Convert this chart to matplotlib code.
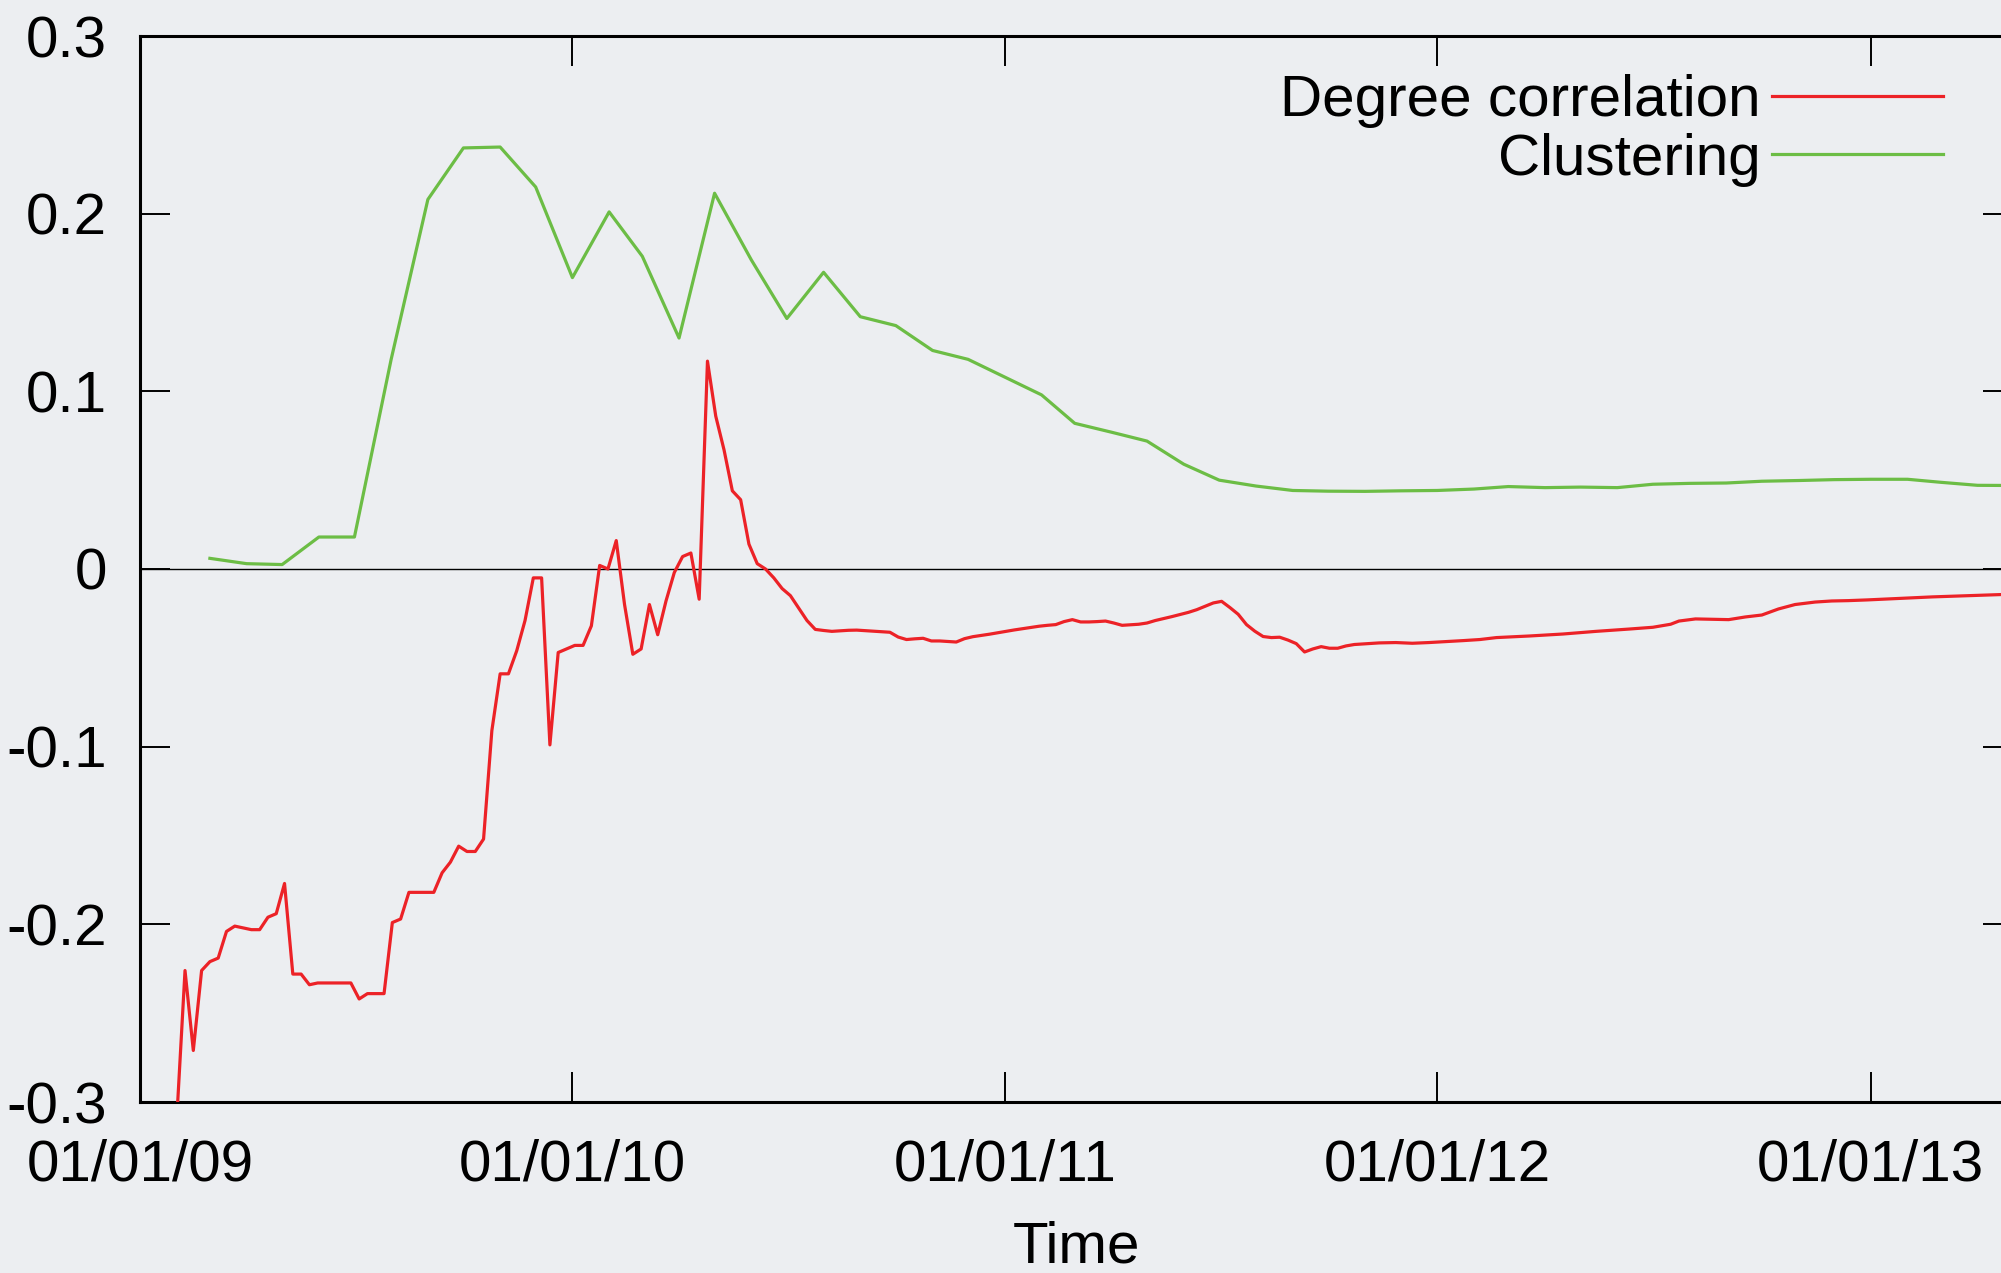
import pandas as pd
import matplotlib
matplotlib.use("Agg")
import matplotlib.pyplot as plt
import matplotlib.dates as mdates
from matplotlib.ticker import FixedLocator, FixedFormatter

# degree correlation, one value per week starting 01/02/2009
red_start = "2009-02-01"
red_weekly = [
    -0.310, -0.226, -0.271, -0.226, -0.221, -0.219, -0.204, -0.201, -0.202, -0.203,
    -0.203, -0.196, -0.194, -0.177, -0.228, -0.228, -0.234, -0.233, -0.233, -0.233,
    -0.233, -0.233, -0.242, -0.239, -0.239, -0.239, -0.199, -0.197, -0.182, -0.182,
    -0.182, -0.182, -0.171, -0.165, -0.156, -0.159, -0.159, -0.152, -0.091, -0.059,
    -0.059, -0.046, -0.029, -0.005, -0.005, -0.099, -0.047, -0.045, -0.043, -0.043,
    -0.032, 0.002, 0.000, 0.016, -0.020, -0.048, -0.045, -0.020, -0.037, -0.018,
    -0.002, 0.007, 0.009, -0.017, 0.117, 0.086, 0.067, 0.044, 0.039, 0.014,
    0.003, -0.000, -0.005, -0.011, -0.015, -0.022, -0.029, -0.034, -0.0346, -0.0351,
    -0.0348, -0.0345, -0.0344, -0.0347, -0.0350, -0.0353, -0.0356, -0.0383, -0.0397, -0.0393,
    -0.0390, -0.0405, -0.0405, -0.0408, -0.0411, -0.0392, -0.0381, -0.0374, -0.0367, -0.0359,
    -0.0351, -0.0343, -0.0336, -0.0329, -0.0322, -0.0317, -0.0313, -0.0296, -0.0285, -0.0298,
    -0.0298, -0.0296, -0.0293, -0.0304, -0.0317, -0.0314, -0.0311, -0.0304, -0.0290, -0.0279,
    -0.0268, -0.0256, -0.0244, -0.0229, -0.0210, -0.0191, -0.0182, -0.0217, -0.0255, -0.0313,
    -0.0350, -0.0380, -0.0386, -0.0384, -0.0400, -0.0420, -0.0467, -0.0450, -0.0437, -0.0446,
    -0.0446, -0.0433, -0.0425, -0.0422, -0.0419, -0.0416, -0.0415, -0.0414, -0.0416, -0.0418,
    -0.0416, -0.0414,
]

# from 2012 on the curve is smooth, keep only some dates
red_tail_dates = [
    "2012-01-23", "2012-02-06", "2012-02-20", "2012-03-19", "2012-04-16", "2012-05-14",
    "2012-06-11", "2012-07-01", "2012-07-16", "2012-07-23", "2012-08-06", "2012-08-20",
    "2012-09-03", "2012-09-17", "2012-10-01", "2012-10-15", "2012-10-29", "2012-11-15",
    "2012-11-29", "2012-12-13", "2012-12-29", "2013-02-22", "2013-04-20", "2013-05-01",
]
red_tail_values = [
    -0.0403, -0.0397, -0.0386, -0.0377, -0.0366, -0.0351,
    -0.0338, -0.0328, -0.0311, -0.0293, -0.0281, -0.0283,
    -0.0285, -0.0270, -0.0259, -0.0225, -0.0200, -0.0186,
    -0.0180, -0.0178, -0.0174, -0.0157, -0.0144, -0.0142,
]

# clustering, one value per month starting 01/03/2009
green_start = "2009-03-01"
green_monthly = [
    0.006, 0.003, 0.0025, 0.018, 0.018, 0.118, 0.208, 0.237, 0.2375, 0.215,
    0.164, 0.201, 0.176, 0.130, 0.2115, 0.174, 0.141, 0.167, 0.142, 0.137,
    0.123, 0.118, 0.108, 0.098, 0.082, 0.077, 0.072, 0.059, 0.050, 0.0467,
    0.0442, 0.0438, 0.0437, 0.0440, 0.0442, 0.0450, 0.0464, 0.0458, 0.0461, 0.0458,
    0.0477, 0.0482, 0.0484, 0.0494, 0.0498, 0.0503, 0.0505, 0.0505, 0.0488, 0.0471,
    0.0470,
]

series_names = ["Degree correlation", "Clustering"]
series_colors = ["#ec2227", "#6cbd45"]
ytick_values = [-0.3, -0.2, -0.1, 0.0, 0.1, 0.2, 0.3]
ytick_labels = ["-0.3", "-0.2", "-0.1", "0", "0.1", "0.2", "0.3"]
x_limits = ["2009-01-01", "2013-05-01"]
x_label = "Time"


def main():
    plt.rcParams["font.family"] = ["Liberation Sans", "DejaVu Sans"]
    fundo = "#eceef1"

    red_x = list(pd.date_range(red_start, periods=len(red_weekly), freq="7D"))
    red_x += list(pd.to_datetime(red_tail_dates))
    red_y = red_weekly + red_tail_values
    green_x = pd.date_range(green_start, periods=len(green_monthly), freq="MS")

    fig = plt.figure(figsize=(20.01, 12.73), dpi=100, facecolor=fundo)
    # the right edge of the frame falls just outside the picture
    ax = fig.add_axes([140 / 2001, 171 / 1273, 1873 / 2001, 1066 / 1273])
    ax.set_facecolor(fundo)

    ax.axhline(0, color="black", lw=1.0, zorder=1)
    ax.plot(red_x, red_y, color=series_colors[0], lw=2.3, label=series_names[0], zorder=3)
    ax.plot(green_x, green_monthly, color=series_colors[1], lw=2.3, label=series_names[1], zorder=3)

    ax.set_xlim(pd.Timestamp(x_limits[0]), pd.Timestamp(x_limits[1]))
    ax.set_ylim(-0.3, 0.3)

    ax.xaxis.set_major_locator(mdates.YearLocator())
    ax.xaxis.set_major_formatter(mdates.DateFormatter("%d/%m/%y"))
    ax.yaxis.set_major_locator(FixedLocator(ytick_values))
    ax.yaxis.set_major_formatter(FixedFormatter(ytick_labels))

    for lado in ax.spines.values():
        lado.set_linewidth(2.2)
    ax.tick_params(axis="both", which="major", direction="in", length=21.6, width=1.4,
                   top=True, right=True, labelsize=42)
    ax.tick_params(axis="x", pad=26)
    ax.tick_params(axis="y", pad=24)

    ax.set_xlabel(x_label, fontsize=42)
    ax.xaxis.set_label_coords(0.5, -0.111)
    ax.xaxis.label.set_va("top")

    ax.legend(loc="upper right", bbox_to_anchor=(1943 / 2001, 1 - 74 / 1273),
              bbox_transform=fig.transFigure, frameon=False, markerfirst=False,
              fontsize=42, handlelength=2.93, handletextpad=0.2, labelspacing=0.08,
              borderpad=0, borderaxespad=0)

    fig.savefig("out.png", dpi=100, facecolor=fundo)


if __name__ == "__main__":
    main()
